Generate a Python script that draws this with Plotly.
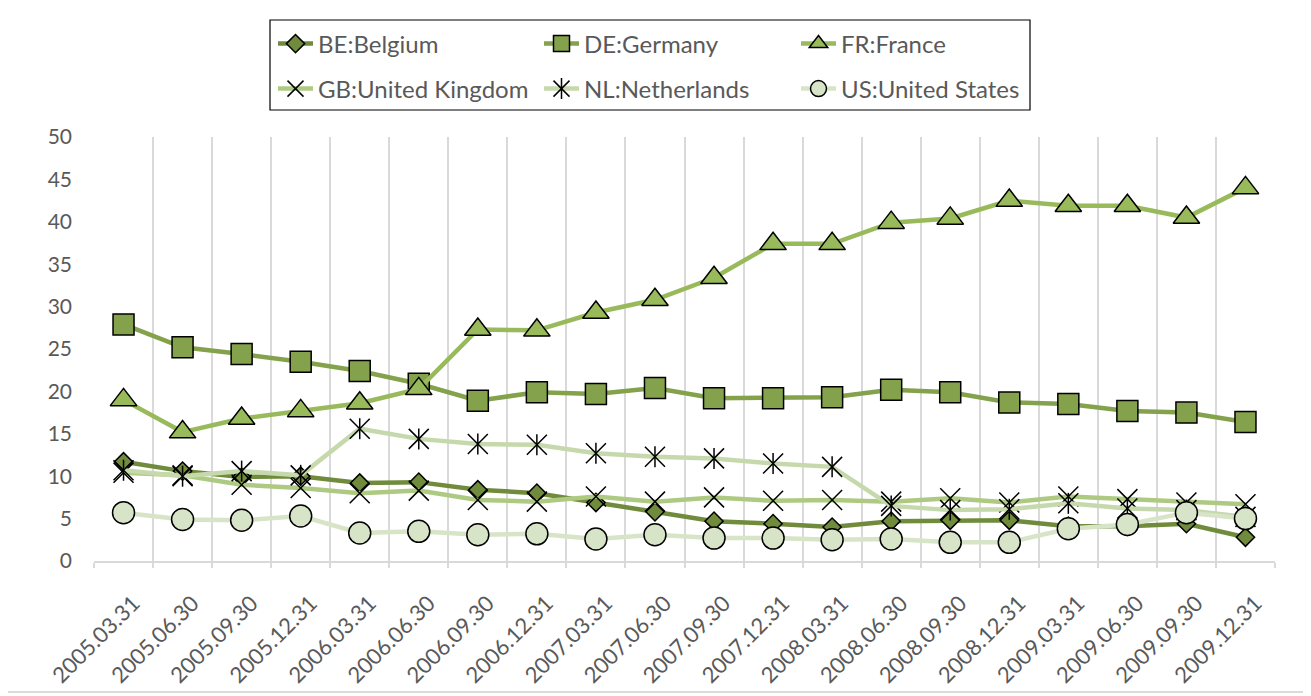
import plotly.graph_objects as go

dates = ["2005.03.31", "2005.06.30", "2005.09.30", "2005.12.31",
         "2006.03.31", "2006.06.30", "2006.09.30", "2006.12.31",
         "2007.03.31", "2007.06.30", "2007.09.30", "2007.12.31",
         "2008.03.31", "2008.06.30", "2008.09.30", "2008.12.31",
         "2009.03.31", "2009.06.30", "2009.09.30", "2009.12.31"]

be = [11.7, 10.6, 9.9, 10.0, 9.2, 9.3, 8.4, 8.0, 6.9, 5.8, 4.7, 4.4, 4.0, 4.7, 4.8, 4.8, 4.1, 4.1, 4.4, 2.8]
de = [27.9, 25.2, 24.4, 23.5, 22.4, 20.9, 18.9, 19.9, 19.7, 20.4, 19.2, 19.2, 19.3, 20.2, 19.9, 18.7, 18.5, 17.7, 17.5, 16.4]
fr = [19.0, 15.2, 16.8, 17.7, 18.6, 20.3, 27.3, 27.2, 29.3, 30.8, 33.4, 37.4, 37.4, 39.9, 40.4, 42.5, 41.9, 41.9, 40.5, 44.0]
gb = [10.4, 10.1, 9.0, 8.6, 8.0, 8.3, 7.2, 7.0, 7.6, 7.0, 7.5, 7.1, 7.2, 7.0, 7.4, 6.9, 7.6, 7.3, 6.9, 6.7]
nl = [10.7, 10.0, 10.6, 10.1, 15.6, 14.4, 13.8, 13.7, 12.7, 12.3, 12.1, 11.5, 11.1, 6.5, 6.0, 6.1, 6.8, 6.2, 6.0, 5.2]
us = [5.7, 4.9, 4.8, 5.3, 3.3, 3.5, 3.1, 3.2, 2.6, 3.1, 2.7, 2.7, 2.5, 2.6, 2.2, 2.2, 3.8, 4.3, 5.7, 5.0]

names = ["BE:Belgium", "DE:Germany", "FR:France", "GB:United Kingdom", "NL:Netherlands", "US:United States"]
colors = ["#6F8B3B", "#84A14B", "#98BA5A", "#AECA82", "#C6D9AC", "#D8E4C8"]

FONT = "Lato"
TXT = "#595959"

fig = go.Figure()

def add(y, name, color, symbol, size, legend, open_sym=False):
    mcol = "black" if open_sym else color
    fig.add_trace(go.Scatter(x=dates, y=y, name=name, mode="lines+markers",
                             line=dict(color=color, width=4.5),
                             marker=dict(symbol=symbol, size=size, color=mcol,
                                         line=dict(color="black", width=1.5)),
                             legend=legend))

add(be, names[0], colors[0], "diamond", 14, "legend")
add(de, names[1], colors[1], "square", 21, "legend2")
add(fr, names[2], colors[2], "triangle-up", 23, "legend3")
add(gb, names[3], colors[3], "x-thin-open", 20, "legend4", open_sym=True)
add(nl, names[4], colors[4], "x-thin-open", 20, "legend5", open_sym=True)
# vertical stroke of the Excel-style star marker for NL (same data)
fig.add_trace(go.Scatter(x=dates, y=nl, name=names[4], mode="markers",
                         marker=dict(symbol="line-ns-open", size=15, color="black",
                                     line=dict(color="black", width=1.5)),
                         legend="legend7"))
add(us, names[5], colors[5], "circle", 22, "legend6")

OFF = 8  # browser body margin
L, R, T, B = 94 - OFF, 36, 137 - OFF, 135
W, H = 1311 - OFF, 696 - OFF
pw, ph = W - L - R, H - T - B

def px(x):
    return (x - OFF - L) / pw

def py(y):
    return (H - B - (y - OFF)) / ph

col_x = [273, 539, 796]
row_y = [44, 89]
LEGFONT = 24
legend_common = dict(orientation="v", xanchor="left", yanchor="middle",
                     bgcolor="rgba(0,0,0,0)", borderwidth=0, itemwidth=35)
legs = {}
keys = ["legend", "legend2", "legend3", "legend4", "legend5", "legend6"]
for i, k in enumerate(keys):
    legs[k] = dict(legend_common, x=px(col_x[i % 3]), y=py(row_y[i // 3]),
                   font=dict(family=FONT, size=LEGFONT, color=TXT))
legs["legend7"] = dict(legend_common, x=px(col_x[1]), y=py(row_y[1]),
                       font=dict(family=FONT, size=LEGFONT, color="rgba(0,0,0,0)"))

fig.update_layout(
    width=W, height=H,
    margin=dict(l=L, r=R, t=T, b=B, autoexpand=False),
    paper_bgcolor="white", plot_bgcolor="white",
    font=dict(family=FONT, size=21, color=TXT),
    showlegend=True,
    **legs,
    xaxis=dict(type="category", range=[-0.5, 19.5], tickson="boundaries",
               showgrid=True, gridcolor="#D9D9D9", gridwidth=1.5,
               showline=True, linecolor="#D9D9D9", linewidth=1.5,
               ticks="outside", ticklen=5, tickcolor="#D9D9D9", tickwidth=1.5,
               tickangle=-45, ticklabelstandoff=19, ticklabelshift=10,
               tickfont=dict(family=FONT, size=22, color=TXT)),
    yaxis=dict(range=[0, 50], dtick=5, showgrid=False, zeroline=False,
               showline=False, ticks="", ticklabelstandoff=21,
               tickfont=dict(family=FONT, size=21, color=TXT)),
    shapes=[
        dict(type="rect", xref="paper", yref="paper",
             x0=px(270), x1=px(1030), y0=py(110), y1=py(20),
             line=dict(color="#000000", width=1.2), layer="above"),
        dict(type="rect", xref="paper", yref="paper",
             x0=px(5), x1=px(1305), y0=py(692), y1=py(3),
             line=dict(color="#D0D0D0", width=1.5)),
    ],
)

fig.write_html("out.html")
